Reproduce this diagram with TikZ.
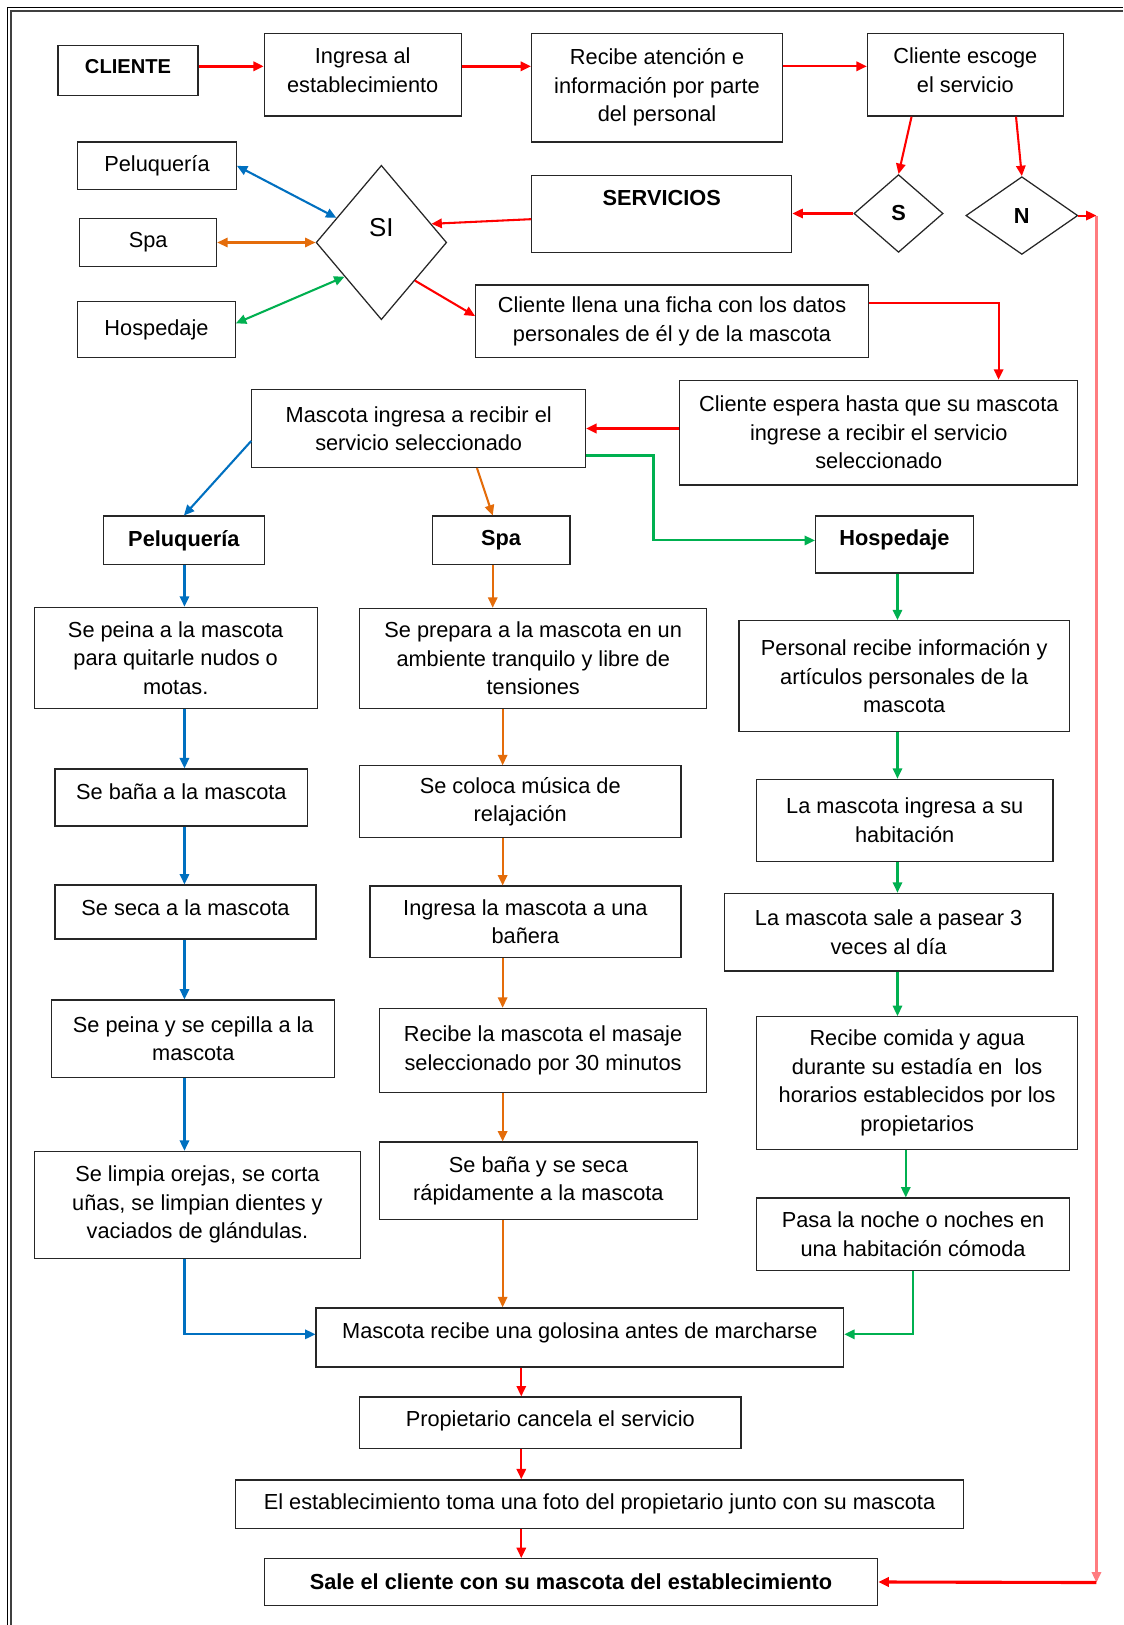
\documentclass[tikz,border=0pt]{standalone}
\usepackage{fontspec}
\setmainfont{Liberation Sans}
\usetikzlibrary{shapes.geometric,arrows.meta,calc}
\definecolor{cred}{HTML}{FF0000}
\definecolor{cblue}{HTML}{0070C0}
\definecolor{corange}{HTML}{E46C0A}
\definecolor{cgreen}{HTML}{00B050}
\definecolor{cpink}{HTML}{FF7C80}
\newcommand\mybox[6]{\node[box, minimum width={(#4-#2)*0.5pt}, minimum height={(#5-#3)*0.5pt}] (#1) at ({(#2+#4)/2},{(#3+#5)/2}) {#6};}
\newcommand\myup[2]{\raisebox{#1}[\height][\depth]{#2}}
\newcommand\mytwo[2]{\begin{tabular}{@{}c@{}}#1\\#2\end{tabular}}
\begin{document}
\begin{tikzpicture}[x=0.5pt,y=-0.5pt,
  box/.style={draw=black!85, line width=0.6pt, inner sep=0pt, align=center, font=\fontsize{10.5}{13.75}\selectfont},
  dia/.style={draw=black!85, diamond, line width=0.6pt, inner sep=0pt, font=\fontsize{10.5}{13.75}\selectfont},
  arr/.style={line width=1pt, -{Triangle[length=5pt,width=4.5pt]}},
  dbl/.style={line width=1pt, {Triangle[length=5pt,width=4.5pt]}-{Triangle[length=5pt,width=4.5pt]}},
  rd/.style={arr, draw=cred},
  bl/.style={arr, draw=cblue},
  og/.style={arr, draw=corange},
  gn/.style={arr, draw=cgreen}]
\fill[white] (0,0) rectangle (1084,1568);
\useasboundingbox (0,0) rectangle (1084,1568);
% page border
\draw[line width=0.6pt] (7.5,1568) -- (7.5,7.5) -- (1084,7.5);
\draw[line width=1pt, black!75] (11,1568) -- (11,11) -- (1084,11);
% top row
\mybox{cliente}{56}{44}{191}{92}{\myup{2pt}{\fontsize{9.7}{12}\selectfont\textbf{CLIENTE}}}
\mybox{ingresa}{255}{32}{445}{112}{\myup{1pt}{\mytwo{Ingresa al}{establecimiento}}}
\mybox{recibe}{513}{32}{755}{137}{Recibe atención e\\información por parte\\del personal}
\mybox{escoge}{837}{32}{1026}{112}{\myup{1pt}{\mytwo{Cliente escoge}{el servicio}}}
% services
\mybox{pelA}{75}{137}{228}{183}{Peluquería}
\mybox{spaA}{77}{211}{209}{257}{Spa}
\mybox{hospA}{75}{291}{227}{345}{Hospedaje}
\node[dia, minimum width=63pt, minimum height=74.5pt, font=\fontsize{12.5}{14}\selectfont] (si) at (368,234) {\myup{7pt}{SI}};
\mybox{servicios}{513}{169}{764}{244}{\myup{7.5pt}{\textbf{SERVICIOS}}}
\node[dia, minimum width=43pt, minimum height=37.5pt] (s) at (867,206) {\textbf{S}};
\node[dia, minimum width=54pt, minimum height=37.5pt] (n) at (986,208) {\textbf{N}};
\mybox{ficha}{459}{275}{838}{345}{Cliente llena una ficha con los datos\\personales de él y de la mascota}
\mybox{espera}{656}{367}{1040}{468}{Cliente espera hasta que su mascota\\ingrese a recibir el servicio\\seleccionado}
\mybox{mi}{243}{376}{565}{451}{Mascota ingresa a recibir el\\servicio seleccionado}
\mybox{pelB}{100}{498}{255}{545}{\textbf{Peluquería}}
\mybox{spaB}{417}{498}{550}{545}{\textbf{Spa}}
\mybox{hospB}{787}{498}{939}{553}{\myup{2.5pt}{\textbf{Hospedaje}}}
% column 1
\mybox{peina}{33}{586}{306}{684}{Se peina a la mascota\\para quitarle nudos o\\motas.}
\mybox{bana}{53}{742}{297}{797}{\myup{3pt}{Se baña a la mascota}}
\mybox{seca}{53}{854}{305}{906}{\myup{2pt}{Se seca a la mascota}}
\mybox{cepilla}{50}{965}{323}{1040}{Se peina y se cepilla a la\\mascota}
\mybox{limpia}{33}{1111}{348}{1214}{Se limpia orejas, se corta\\uñas, se limpian dientes y\\vaciados de glándulas.}
% column 2
\mybox{prepara}{347}{587}{682}{684}{Se prepara a la mascota en un\\ambiente tranquilo y libre de\\tensiones}
\mybox{musica}{347}{739}{657}{808}{Se coloca música de\\relajación}
\mybox{banera}{357}{855}{657}{924}{Ingresa la mascota a una\\bañera}
\mybox{masaje}{366}{973}{682}{1054}{Recibe la mascota el masaje\\seleccionado por 30 minutos}
\mybox{banaseca}{366}{1102}{673}{1177}{Se baña y se seca\\rápidamente a la mascota}
% column 3
\mybox{personal}{713}{599}{1032}{706}{Personal recibe información y\\artículos personales de la\\mascota}
\mybox{habit}{730}{752}{1016}{831}{La mascota ingresa a su\\habitación}
\mybox{pasear}{699}{862}{1016}{937}{La mascota sale a pasear 3\\veces al día}
\mybox{comida}{730}{981}{1040}{1109}{Recibe comida y agua\\durante su estadía en \ los\\horarios establecidos por los\\propietarios}
\mybox{noche}{730}{1156}{1032}{1226}{Pasa la noche o noches en\\una habitación cómoda}
% bottom
\mybox{golosina}{305}{1262}{814}{1319}{\myup{2pt}{Mascota recibe una golosina antes de marcharse}}
\mybox{cancela}{347}{1348}{715}{1398}{\myup{1pt}{Propietario cancela el servicio}}
\mybox{foto}{227}{1428}{930}{1475}{El establecimiento toma una foto del propietario junto con su mascota}
\mybox{sale}{255}{1504}{847}{1549}{\textbf{Sale el cliente con su mascota del establecimiento}}
% helper coordinates
\coordinate (row) at (0,64);
\coordinate (colA) at (178,0);
\coordinate (colB) at (485,0);
\coordinate (colC) at (866,0);
\coordinate (colC2) at (874,0);
\coordinate (colD) at (503,0);
\coordinate (c1) at (1058,208);
\coordinate (c2) at (1058,1527);
\coordinate (spaout) at ($(spaB.south west)!0.44!(spaB.south east)$);
% top row arrows
\draw[rd, line width=1.2pt] (cliente.east |- row) -- (ingresa.west |- row);
\draw[rd, line width=1.2pt] (ingresa.east |- row) -- (recibe.west |- row);
\draw[rd] (recibe.east |- row) -- (escoge.west |- row);
\draw[rd] ($(escoge.south west)!0.227!(escoge.south east)$) -- (s.north);
\draw[rd] ($(escoge.south west)!0.757!(escoge.south east)$) -- (n.north);
\draw[rd] (s.west) -- (servicios.east |- s.west);
\draw[rd] ([yshift=-2.5pt]servicios.west) -- ($(si.north)!0.76!(si.east)$);
\draw[dbl, draw=cblue] (pelA.east) -- ($(si.west)!0.317!(si.north)$);
\draw[dbl, draw=corange] (spaA.east |- si.west) -- (si.west);
\draw[dbl, draw=cgreen] ([yshift=3pt]hospA.east) -- ($(si.west)!0.44!(si.south)$);
\draw[rd] ($(si.east)!0.49!(si.south)$) -- ([yshift=2.5pt]ficha.west);
\draw[rd] ([yshift=9pt]ficha.east) -| ($(espera.north west)!0.8!(espera.north east)$);
\draw[rd, line width=1.2pt] (espera.west |- mi.east) -- (mi.east);
% N branch
\draw[rd] (n.east) -- (c1);
\draw[arr, draw=cpink] (c1) -- (c2);
\draw[rd, line width=1.5pt] (c2) -- (sale.east);
% mascota ingresa branches
\draw[bl] ([yshift=-6pt]mi.west) -- (pelB.north);
\draw[og] ($(mi.south west)!0.674!(mi.south east)$) -- ($(spaB.north west)!0.44!(spaB.north east)$);
\draw[gn] ([yshift=-13pt]mi.east) -- ++(65,0) |- ([yshift=2pt]hospB.west);
% column 1
\draw[bl] (pelB.south -| colA) -- (peina.north -| colA);
\draw[bl] (peina.south -| colA) -- (bana.north -| colA);
\draw[bl] (bana.south -| colA) -- (seca.north -| colA);
\draw[bl] (seca.south -| colA) -- (cepilla.north -| colA);
\draw[bl] (cepilla.south -| colA) -- (limpia.north -| colA);
\draw[bl] (limpia.south -| colA) |- ([yshift=1.5pt]golosina.west);
% column 2
\draw[og] (spaout) -- (spaout |- prepara.north);
\draw[og] (prepara.south -| colB) -- (musica.north -| colB);
\draw[og] (musica.south -| colB) -- (banera.north -| colB);
\draw[og] (banera.south -| colB) -- (masaje.north -| colB);
\draw[og] (masaje.south -| colB) -- (banaseca.north -| colB);
\draw[og] (banaseca.south -| colB) -- (golosina.north -| colB);
% column 3
\draw[gn] (hospB.south -| colC) -- (personal.north -| colC);
\draw[gn] (personal.south -| colC) -- (habit.north -| colC);
\draw[gn] (habit.south -| colC) -- (pasear.north -| colC);
\draw[gn] (pasear.south -| colC) -- (comida.north -| colC);
\draw[gn] (comida.south -| colC2) -- (noche.north -| colC2);
\draw[gn] (noche.south) |- ([yshift=1.5pt]golosina.east);
% bottom
\draw[rd] (golosina.south -| colD) -- (cancela.north -| colD);
\draw[rd] (cancela.south -| colD) -- (foto.north -| colD);
\draw[rd] (foto.south -| colD) -- (sale.north -| colD);
\end{tikzpicture}
\end{document}
